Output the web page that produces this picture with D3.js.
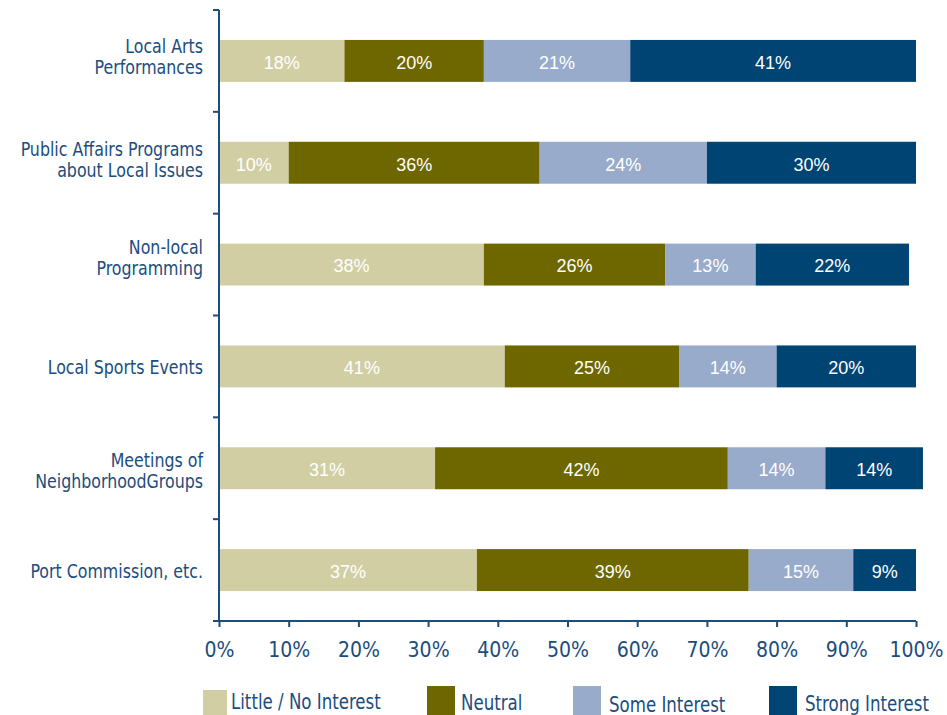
<!DOCTYPE html>
<html>
<head>
<meta charset="utf-8">
<script src="https://cdn.jsdelivr.net/npm/d3@7"></script>
<style>
  body { margin: 0; background: #fff; }
  svg { display: block; }
  .lbl { font-family: "DejaVu Sans Condensed", "Liberation Sans Narrow", sans-serif; fill: #1b4d7e; }
  .val { font-family: "Liberation Sans", Arial, sans-serif; fill: #fff; font-size: 18px; }
</style>
</head>
<body>
<svg id="chart" width="947" height="715"></svg>
<script>
// categories (top to bottom), each label split into lines
const categories = [
  ['Local Arts', 'Performances'],
  ['Public Affairs Programs', 'about Local Issues'],
  ['Non-local', 'Programming'],
  ['Local Sports Events'],
  ['Meetings of', 'NeighborhoodGroups'],
  ['Port Commission, etc.']
];
const seriesNames = ['Little / No Interest', 'Neutral', 'Some Interest', 'Strong Interest'];
const seriesColors = ['#d1cea4', '#6e6700', '#98abca', '#004474'];

// percentages per series, in category order
const littleNo = [18, 10, 38, 41, 31, 37];
const neutral  = [20, 36, 26, 25, 42, 39];
const some     = [21, 24, 13, 14, 14, 15];
const strong   = [41, 30, 22, 20, 14, 9];

const xTicks = [0, 10, 20, 30, 40, 50, 60, 70, 80, 90, 100];

const svg = d3.select('#chart');
const plotL = 219, plotR = 916, plotT = 10, plotB = 621;
const squeeze = 0.88; // the original face is narrower than DejaVu Condensed

const rows = categories.map((c, i) => ({
  key: c.join(' '),
  lines: c,
  vals: [littleNo[i], neutral[i], some[i], strong[i]]
}));

const x = d3.scaleLinear().domain([0, 100]).range([plotL, plotR]);
const y = d3.scaleBand()
  .domain(rows.map(r => r.key))
  .range([plotT, plotB])
  .paddingInner(0.588)
  .paddingOuter(0.294);
const color = d3.scaleOrdinal().domain(seriesNames).range(seriesColors);

// stacked segments
const segs = [];
rows.forEach(r => {
  let acc = 0;
  r.vals.forEach((v, j) => {
    segs.push({ key: r.key, name: seriesNames[j], x0: acc, x1: acc + v, v: v });
    acc += v;
  });
});

svg.append('g')
  .selectAll('rect')
  .data(segs)
  .enter()
  .append('rect')
  .attr('x', d => x(d.x0))
  .attr('y', d => y(d.key))
  .attr('width', d => x(d.x1) - x(d.x0))
  .attr('height', y.bandwidth())
  .attr('fill', d => color(d.name));

svg.append('g')
  .selectAll('text')
  .data(segs)
  .enter()
  .append('text')
  .attr('class', 'val')
  .attr('x', d => (x(d.x0) + x(d.x1)) / 2)
  .attr('y', d => y(d.key) + y.bandwidth() / 2 + 3)
  .attr('text-anchor', 'middle')
  .attr('dominant-baseline', 'middle')
  .text(d => d.v + '%');

// y axis: line with ticks at row boundaries
const axisColor = '#1b4d7e';
const yAxis = svg.append('g');
yAxis.append('line')
  .attr('x1', plotL).attr('x2', plotL)
  .attr('y1', plotT).attr('y2', plotB)
  .attr('stroke', axisColor).attr('stroke-width', 2);
const bounds = d3.range(rows.length + 1).map(i => plotT + i * y.step());
yAxis.selectAll('.yt')
  .data(bounds)
  .enter()
  .append('line')
  .attr('x1', plotL - 6).attr('x2', plotL)
  .attr('y1', d => d).attr('y2', d => d)
  .attr('stroke', axisColor).attr('stroke-width', 2);

// category labels (small per-row nudges as in the original)
const labelShift = [-1, 0, -4, 0, 6, 0];
const catG = svg.append('g').selectAll('text')
  .data(rows)
  .enter()
  .append('text')
  .attr('class', 'lbl')
  .attr('font-size', 20)
  .attr('text-anchor', 'end')
  .attr('transform', `translate(${plotL - 16},0) scale(${squeeze},1)`);
catG.each(function (r, i) {
  const cy = y(r.key) + y.bandwidth() / 2;
  const t = d3.select(this);
  if (r.lines.length === 1) {
    t.append('tspan').attr('x', 0).attr('y', cy + 8).text(r.lines[0]);
  } else {
    r.lines.forEach((ln, k) => {
      t.append('tspan').attr('x', 0).attr('y', cy - 7 + labelShift[i] + k * 21).text(ln);
    });
  }
});

// x axis
const xAxis = svg.append('g')
  .attr('transform', `translate(0,${plotB})`)
  .call(d3.axisBottom(x).tickValues(xTicks).tickFormat(d => d + '%').tickSize(6).tickPadding(15));
xAxis.select('.domain').attr('stroke', axisColor).attr('stroke-width', 2)
  .attr('d', `M${plotL - 6},0H${plotR}`);
xAxis.selectAll('.tick line').attr('stroke', axisColor).attr('stroke-width', 2);
xAxis.selectAll('.tick text')
  .attr('class', 'lbl')
  .attr('font-size', 21)
  .attr('fill', axisColor)
  .attr('dy', '0.71em');

// legend
const legX = [203, 427, 573, 769];
const leg = svg.append('g').selectAll('g')
  .data(seriesNames)
  .enter()
  .append('g')
  .attr('transform', (d, i) => `translate(${legX[i]},0)`);
leg.append('rect')
  .attr('x', 0)
  .attr('y', (d, i) => i === 0 ? 690 : 686)
  .attr('width', (d, i) => i === 0 ? 24 : 28)
  .attr('height', 30)
  .attr('fill', d => color(d));
leg.append('text')
  .attr('class', 'lbl')
  .attr('font-size', 21)
  .attr('transform', (d, i) => `translate(${i === 0 ? 28 : i === 1 ? 34 : 36},${[709, 710, 712, 711][i]}) scale(${squeeze},1)`)
  .text(d => d);
</script>
</body>
</html>
